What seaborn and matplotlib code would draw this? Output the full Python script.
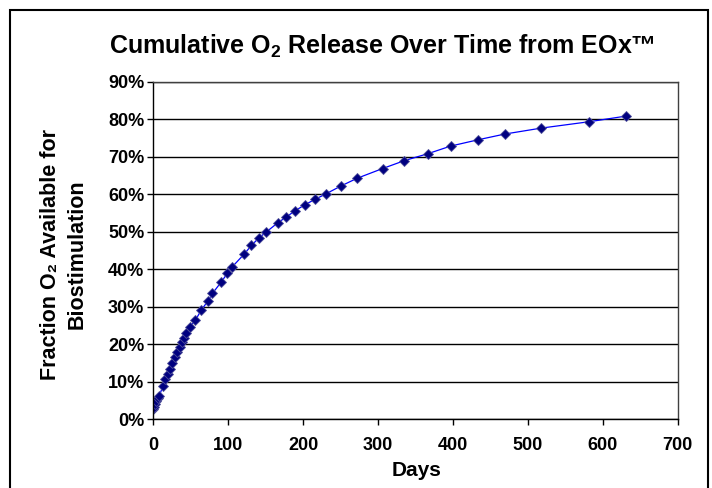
import matplotlib
matplotlib.use("Agg")
import matplotlib.pyplot as plt
import seaborn as sns
import pandas as pd
from matplotlib.patches import Rectangle
from matplotlib.ticker import FuncFormatter, MultipleLocator

# days since start and cumulative fraction of O2 released
days = [0, 1, 2, 4, 6, 8, 13, 16, 19, 22, 25, 29, 32, 35, 38, 41, 44, 49,
        56, 64, 73, 79, 91, 99, 105, 121, 131, 141, 151, 166, 177, 189, 202,
        216, 230, 250, 272, 306, 335, 367, 397, 434, 469, 518, 582, 631]
fraction = [0.028, 0.034, 0.040, 0.048, 0.056, 0.062, 0.090, 0.108, 0.120,
            0.135, 0.150, 0.165, 0.180, 0.193, 0.205, 0.216, 0.229, 0.247,
            0.264, 0.291, 0.316, 0.336, 0.367, 0.390, 0.406, 0.440, 0.464,
            0.484, 0.500, 0.524, 0.539, 0.556, 0.572, 0.587, 0.601, 0.622,
            0.643, 0.669, 0.690, 0.709, 0.729, 0.746, 0.761, 0.777, 0.794,
            0.809]

df = pd.DataFrame({"Days": days, "Fraction": fraction})

sns.set_style("white")
plt.rcParams['font.family'] = ['Liberation Sans', 'DejaVu Sans']
plt.rcParams['font.weight'] = 'bold'
plt.rcParams['text.color'] = 'black'
plt.rcParams['axes.labelcolor'] = 'black'
plt.rcParams['xtick.color'] = 'black'
plt.rcParams['ytick.color'] = 'black'
plt.rcParams['mathtext.fontset'] = 'custom'
plt.rcParams['mathtext.rm'] = 'Liberation Sans:bold'
plt.rcParams['mathtext.bf'] = 'Liberation Sans:bold'

fig = plt.figure(figsize=(7.12, 4.88), dpi=100)
ax = fig.add_axes([0.2153, 0.1408, 0.7365, 0.6912])

sns.lineplot(data=df, x="Days", y="Fraction", ax=ax, color="#0000ff",
             linewidth=0.9, marker="D", markersize=5.5,
             markerfacecolor="#000080", markeredgecolor="#50509a",
             markeredgewidth=0.6)

ax.set_xlim(0, 700)
ax.set_ylim(0, 0.9)
ax.xaxis.set_major_locator(MultipleLocator(100))
ax.yaxis.set_major_locator(MultipleLocator(0.1))
ax.yaxis.set_major_formatter(FuncFormatter(lambda v, p: f"{v:.0%}"))
ax.grid(axis='y', color='black', linewidth=1)
ax.set_axisbelow(True)
for s in ax.spines.values():
    s.set_visible(True)
    s.set_color('black')
    s.set_linewidth(1)
ax.spines['top'].set_color('#404040')
ax.spines['right'].set_color('#404040')

ax.tick_params(axis='both', direction='out', width=1, color='black',
               labelcolor='black', labelsize=13, bottom=True, left=True)
ax.tick_params(axis='x', length=4, pad=9)
ax.tick_params(axis='y', length=4.5, pad=2)
for lab in ax.get_xticklabels() + ax.get_yticklabels():
    lab.set_fontweight('bold')

ax.set_xlabel("Days", fontsize=15, fontweight='bold', color='black')
ax.xaxis.set_label_coords(0.503, -0.125)
ax.set_ylabel("Fraction O₂ Available for\nBiostimulation", fontsize=15.5,
              fontweight='bold', linespacing=1.3, multialignment='center',
              color='black')
ax.yaxis.set_label_coords(-0.126, 0.49)

fig.text(0.536, 0.905, r"Cumulative O$_{\mathbf{2}}$ Release Over Time from EOx™",
         ha='center', va='center', fontsize=18, fontweight='bold', color='black')

fig.patches.append(Rectangle((10 / 712, -0.01), 698 / 712, 1 - 10 / 488 + 0.01,
                             transform=fig.transFigure, fill=False,
                             edgecolor='black', linewidth=1.5))

fig.savefig("out.png", dpi=100)
